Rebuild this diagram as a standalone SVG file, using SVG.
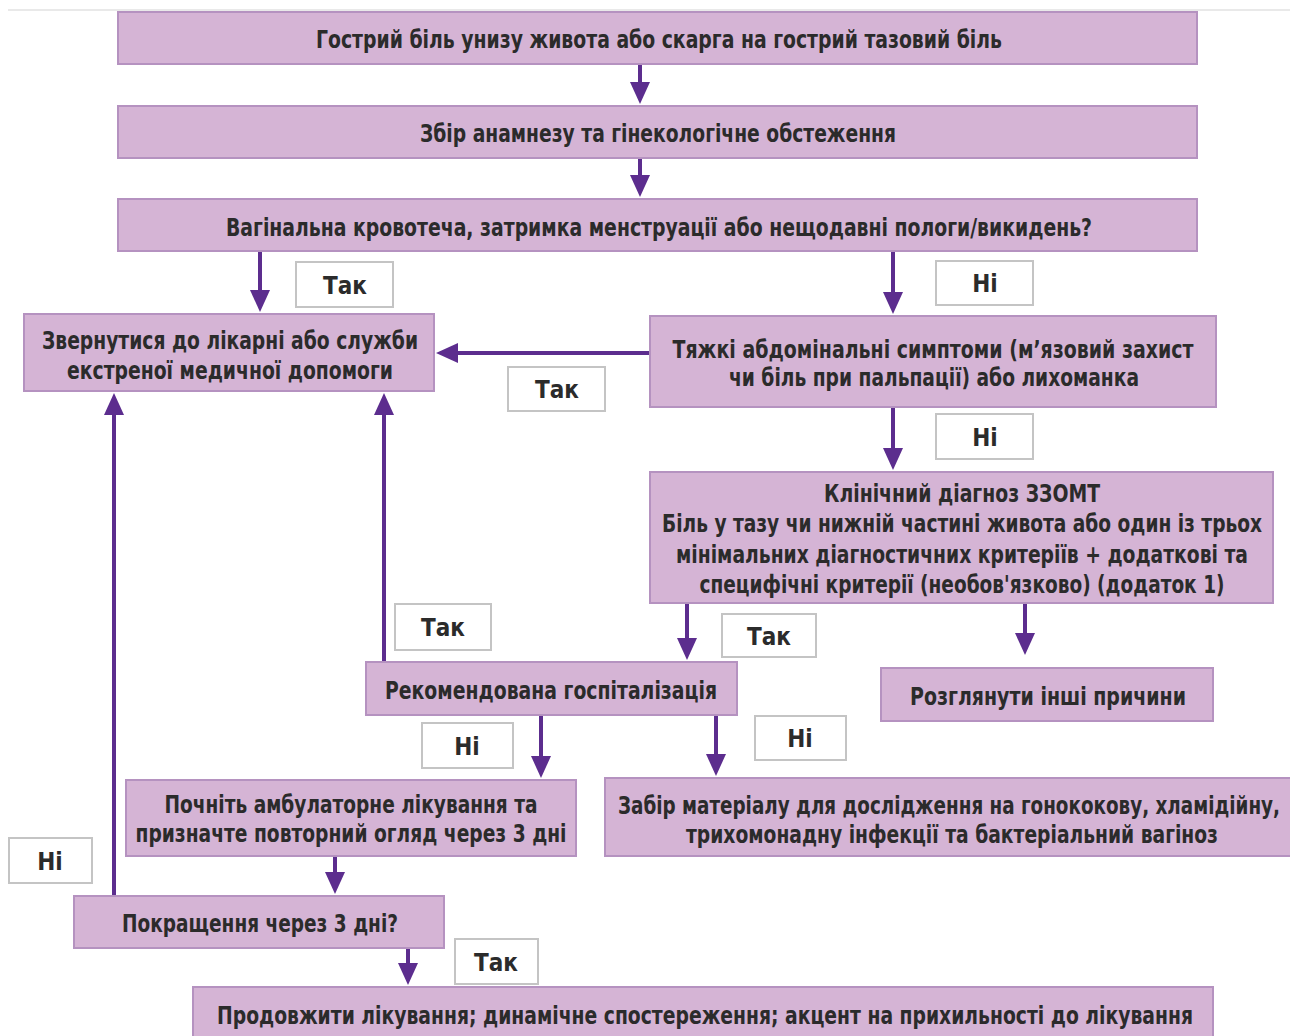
<svg xmlns="http://www.w3.org/2000/svg" width="1290" height="1036" viewBox="0 0 1290 1036">
<style>
.box{fill:#d5b4d5;stroke:#b592c0;stroke-width:2}
.lbl{fill:#ffffff;stroke:#c4c4c4;stroke-width:2}
text{font-family:"Liberation Sans Narrow","DejaVu Sans Condensed","Liberation Sans",sans-serif;font-weight:bold;font-size:24px;fill:#2b2b2b;text-anchor:middle}
.con{fill:none;stroke:#5c2d8e;stroke-width:4;marker-end:url(#ah)}
</style>
<defs>
<marker id="ah" markerUnits="userSpaceOnUse" markerWidth="22" markerHeight="20" viewBox="0 0 22 20" refX="12" refY="10" orient="auto">
<path d="M0,0 L22,10 L0,20 z" fill="#5c2d8e"/>
</marker>
</defs>
<rect x="0" y="0" width="1290" height="1036" fill="#ffffff"/>
<line x1="8" y1="10" x2="1290" y2="10" stroke="#e2e2e2" stroke-width="1.5"/>

<g id="connectors">
<path class="con" d="M640,64 V94"/>
<path class="con" d="M640,158 V187"/>
<path class="con" d="M260,251 V302"/>
<path class="con" d="M893,251 V304"/>
<path class="con" d="M650,353 H446"/>
<path class="con" d="M893,407 V460"/>
<path class="con" d="M687,603 V650"/>
<path class="con" d="M1025,603 V645"/>
<path class="con" d="M384,662 V403"/>
<path class="con" d="M541,715 V768"/>
<path class="con" d="M716,715 V766"/>
<path class="con" d="M335,856 V884"/>
<path class="con" d="M114,896 V403"/>
<path class="con" d="M408,948 V975"/>
</g>

<g id="n1"><rect class="box" x="118" y="12" width="1079" height="52"/>
<text x="659" y="48" textLength="686" lengthAdjust="spacingAndGlyphs">Гострий біль унизу живота або скарга на гострий тазовий біль</text></g>
<g id="n2"><rect class="box" x="118" y="106" width="1079" height="52"/>
<text x="658" y="142" textLength="476" lengthAdjust="spacingAndGlyphs">Збір анамнезу та гінекологічне обстеження</text></g>
<g id="n3"><rect class="box" x="118" y="199" width="1079" height="52"/>
<text x="659" y="236" textLength="866" lengthAdjust="spacingAndGlyphs">Вагінальна кровотеча, затримка менструації або нещодавні пологи/викидень?</text></g>
<g id="n4"><rect class="box" x="24" y="314" width="410" height="77"/>
<text x="230" y="349" textLength="376" lengthAdjust="spacingAndGlyphs">Звернутися до лікарні або служби</text>
<text x="230" y="379" textLength="326" lengthAdjust="spacingAndGlyphs">екстреної медичної допомоги</text></g>
<g id="n5"><rect class="box" x="650" y="316" width="566" height="91"/>
<text x="933" y="358" textLength="521" lengthAdjust="spacingAndGlyphs">Тяжкі абдомінальні симптоми (м’язовий захист</text>
<text x="934" y="386" textLength="410" lengthAdjust="spacingAndGlyphs">чи біль при пальпації) або лихоманка</text></g>
<g id="n6"><rect class="box" x="650" y="472" width="623" height="131"/>
<text x="962" y="502" textLength="276" lengthAdjust="spacingAndGlyphs">Клінічний діагноз ЗЗОМТ</text>
<text x="962" y="532" textLength="600" lengthAdjust="spacingAndGlyphs">Біль у тазу чи нижній частині живота або один із трьох</text>
<text x="962" y="563" textLength="572" lengthAdjust="spacingAndGlyphs">мінімальних діагностичних критеріїв + додаткові та</text>
<text x="962" y="593" textLength="525" lengthAdjust="spacingAndGlyphs">специфічні критерії (необов'язково) (додаток 1)</text></g>
<g id="n7"><rect class="box" x="366" y="662" width="371" height="53"/>
<text x="551" y="699" textLength="332" lengthAdjust="spacingAndGlyphs">Рекомендована госпіталізація</text></g>
<g id="n8"><rect class="box" x="881" y="668" width="332" height="53"/>
<text x="1048" y="705" textLength="276" lengthAdjust="spacingAndGlyphs">Розглянути інші причини</text></g>
<g id="n9"><rect class="box" x="126" y="780" width="450" height="76"/>
<text x="351" y="813" textLength="373" lengthAdjust="spacingAndGlyphs">Почніть амбулаторне лікування та</text>
<text x="351" y="842" textLength="431" lengthAdjust="spacingAndGlyphs">призначте повторний огляд через 3 дні</text></g>
<g id="n10"><rect class="box" x="605" y="778" width="690" height="78"/>
<text x="949" y="814" textLength="662" lengthAdjust="spacingAndGlyphs">Забір матеріалу для дослідження на гонококову, хламідійну,</text>
<text x="952" y="843" textLength="532" lengthAdjust="spacingAndGlyphs">трихомонадну інфекції та бактеріальний вагіноз</text></g>
<g id="n11"><rect class="box" x="74" y="896" width="370" height="52"/>
<text x="260" y="932" textLength="276" lengthAdjust="spacingAndGlyphs">Покращення через 3 дні?</text></g>
<g id="n12"><rect class="box" x="193" y="987" width="1020" height="60"/>
<text x="705" y="1024" textLength="976" lengthAdjust="spacingAndGlyphs">Продовжити лікування; динамічне спостереження; акцент на прихильності до лікування</text></g>

<g id="l1"><rect class="lbl" x="296" y="262" width="97" height="45"/><text x="345" y="294">Так</text></g>
<g id="l2"><rect class="lbl" x="936" y="261" width="97" height="44"/><text x="985" y="292">Ні</text></g>
<g id="l3"><rect class="lbl" x="508" y="367" width="97" height="44"/><text x="557" y="398">Так</text></g>
<g id="l4"><rect class="lbl" x="936" y="414" width="97" height="45"/><text x="985" y="446">Ні</text></g>
<g id="l5"><rect class="lbl" x="395" y="604" width="96" height="46"/><text x="443" y="636">Так</text></g>
<g id="l6"><rect class="lbl" x="722" y="614" width="94" height="43"/><text x="769" y="645">Так</text></g>
<g id="l7"><rect class="lbl" x="422" y="723" width="91" height="45"/><text x="467" y="755">Ні</text></g>
<g id="l8"><rect class="lbl" x="755" y="716" width="91" height="44"/><text x="800" y="747">Ні</text></g>
<g id="l9"><rect class="lbl" x="9" y="838" width="83" height="45"/><text x="50" y="870">Ні</text></g>
<g id="l10"><rect class="lbl" x="455" y="939" width="83" height="45"/><text x="496" y="971">Так</text></g>
</svg>
